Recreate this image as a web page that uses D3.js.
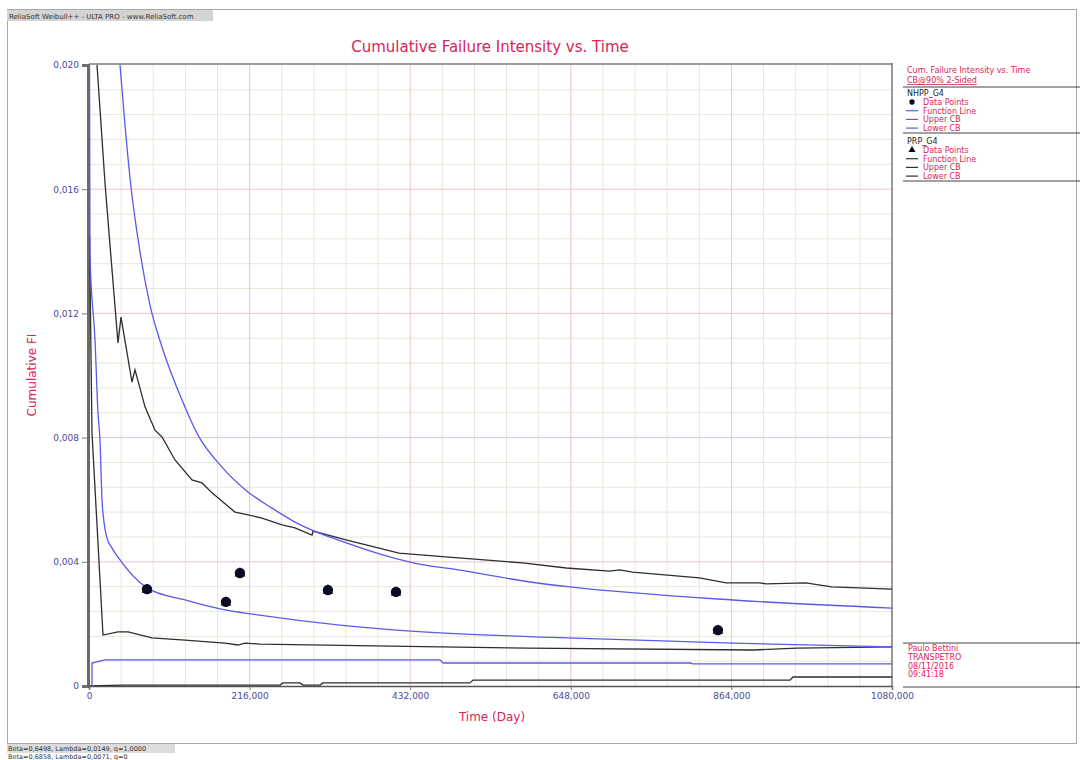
<!DOCTYPE html>
<html>
<head>
<meta charset="utf-8">
<script src="https://cdn.jsdelivr.net/npm/d3@7"></script>
<style>
  body { margin: 0; background: #fff; }
  svg { display: block; font-family: "DejaVu Sans", Verdana, sans-serif; }
</style>
</head>
<body>
<svg id="chart" width="1083" height="760"></svg>
<script>
// ---- data: [time (day), cumulative failure intensity] ----
const nhppPoints = [[78000, 0.00312], [184200, 0.00271], [203000, 0.00364], [321400, 0.00309], [412900, 0.00303], [845900, 0.00180]];

const nhppFunction = [[700, 0.0200], [1345, 0.01382], [8070, 0.01114], [12100, 0.00879], [14790, 0.00792], [17480, 0.00599],
  [20170, 0.00528], [24210, 0.00477], [30930, 0.00444], [39000, 0.00415], [78000, 0.00316], [129120, 0.00277],
  [182910, 0.00245], [209810, 0.00235], [337580, 0.00196], [449220, 0.00174], [642890, 0.00155], [866150, 0.00138],
  [1080000, 0.00126]];

const nhppUpper = [[41690, 0.0200], [48420, 0.01807], [55140, 0.01636], [68590, 0.01398], [82040, 0.01227], [98180, 0.01092],
  [125080, 0.00921], [146600, 0.00808], [178880, 0.00705], [213850, 0.00625], [246130, 0.00573], [277060, 0.00528],
  [347000, 0.00460], [431730, 0.00399], [507000, 0.00370], [593130, 0.00335], [646930, 0.00319], [866150, 0.00277],
  [1080000, 0.00251]];

const nhppLower = [[4030, 0], [4030, 0.00074], [21520, 0.00084], [472080, 0.00084], [476000, 0.00074], [808320, 0.00074],
  [812000, 0.00071], [1080000, 0.00071]];

const prpFunction = [[670, 0.01452], [4030, 0.00815], [18830, 0.00164], [39000, 0.00174], [52450, 0.00174], [84730, 0.00155],
  [129120, 0.00148], [182910, 0.00138], [200400, 0.00132], [209810, 0.00138], [229990, 0.00135], [472080, 0.00126],
  [589100, 0.00122], [893050, 0.00116], [952220, 0.00122], [1080000, 0.00126]];

const prpUpper = [[10760, 0.0200], [21520, 0.01620], [28240, 0.01420], [39000, 0.01105], [43040, 0.01188], [57830, 0.00979],
  [61870, 0.01018], [75320, 0.00899], [88770, 0.00824], [98180, 0.00802], [115670, 0.00728], [138530, 0.00664],
  [151980, 0.00654], [165430, 0.00622], [196360, 0.00560], [213850, 0.00551], [232680, 0.00541], [259580, 0.00519],
  [277060, 0.00509], [299930, 0.00486], [301270, 0.00499], [347000, 0.00470], [417000, 0.00428], [484000, 0.00415],
  [586000, 0.00396], [642000, 0.00380], [700000, 0.00370], [714000, 0.00374], [731000, 0.00367], [821000, 0.00348],
  [857000, 0.00332], [902000, 0.00332], [911000, 0.00329], [964000, 0.00332], [999000, 0.00319], [1080000, 0.00312]];

const prpLower = [[0, 0], [44380, 0.00003], [256880, 0.00003], [260920, 0.00010], [283790, 0.00010], [287820, 0.00003],
  [310680, 0.00003], [314720, 0.00010], [512430, 0.00010], [516460, 0.00019], [942810, 0.00019], [946840, 0.00029],
  [1080000, 0.00029]];

const xTicks = [0, 216000, 432000, 648000, 864000, 1080000];
const xTickLabels = ["0", "216,000", "432,000", "648,000", "864,000", "1080,000"];
const yTicks = [0, 0.004, 0.008, 0.012, 0.016, 0.020];
const yTickLabels = ["0", "0,004", "0,008", "0,012", "0,016", "0,020"];

const legendNhpp = ["Data Points", "Function Line", "Upper CB", "Lower CB"];
const legendPrp = ["Data Points", "Function Line", "Upper CB", "Lower CB"];
const stampLines = ["Paulo Bettini", "TRANSPETRO", "08/11/2016", "09:41:18"];
const paramLines = ["Beta=0,6498, Lambda=0,0149, q=1,0000", "Beta=0,6858, Lambda=0,0071, q=0"];

// ---- layout ----
const svg = d3.select("#chart");
const L = 89, R = 892, T = 65, B = 686;
const x = d3.scaleLinear().domain([0, 1080000]).range([L, R]);
const y = d3.scaleLinear().domain([0, 0.02]).range([B, T]);

const pink = "#d8245a";
const blue = "#5a5ae8";
const dark = "#2e2e2e";
const tickBlue = "#4a4aa0";

// outer frame and program header
svg.append("rect").attr("x", 7.5).attr("y", 9.5).attr("width", 1069).attr("height", 734)
  .attr("fill", "none").attr("stroke", "#a8a8a8");
svg.append("rect").attr("x", 7).attr("y", 10).attr("width", 206).attr("height", 11).attr("fill", "#d4d4d4");
svg.append("text").attr("x", 9).attr("y", 18.5).attr("font-size", 7).attr("fill", "#333")
  .text("ReliaSoft Weibull++ - ULTA PRO - www.ReliaSoft.com");

// grid
const grid = svg.append("g");
d3.range(0, 1080001, 43200).forEach(v => {
  if (v % 216000 !== 0) grid.append("line").attr("x1", x(v)).attr("x2", x(v)).attr("y1", T).attr("y2", B)
    .attr("stroke", "#e2ebda").attr("stroke-width", 1);
});
d3.range(0, 0.02001, 0.0008).forEach((v, i) => {
  if (i % 5 !== 0) grid.append("line").attr("x1", L).attr("x2", R).attr("y1", y(v)).attr("y2", y(v))
    .attr("stroke", "#e2ebda").attr("stroke-width", 1);
});
xTicks.slice(1, -1).forEach(v => grid.append("line").attr("x1", x(v)).attr("x2", x(v)).attr("y1", T).attr("y2", B)
  .attr("stroke", "#efc2ca").attr("stroke-width", 1));
yTicks.slice(1, -1).forEach(v => grid.append("line").attr("x1", L).attr("x2", R).attr("y1", y(v)).attr("y2", y(v))
  .attr("stroke", "#efc2ca").attr("stroke-width", 1));

// plot frame
svg.append("line").attr("x1", L).attr("x2", R).attr("y1", T - 1).attr("y2", T - 1).attr("stroke", "#9a9a9a").attr("stroke-width", 2);
svg.append("line").attr("x1", R).attr("x2", R).attr("y1", T - 2).attr("y2", B).attr("stroke", "#555").attr("stroke-width", 1.2);

// axes
const yAxis = svg.append("g").attr("transform", `translate(${L - 1},0)`)
  .call(d3.axisLeft(y).tickValues(yTicks).tickFormat((d, i) => yTickLabels[i]).tickSize(6).tickPadding(3));
const xAxis = svg.append("g").attr("transform", `translate(0,${B})`)
  .call(d3.axisBottom(x).tickValues(xTicks).tickFormat((d, i) => xTickLabels[i]).tickSize(4).tickPadding(3));
[yAxis, xAxis].forEach(a => {
  a.selectAll("text").attr("font-size", 9).attr("fill", tickBlue).attr("font-family", "DejaVu Sans, sans-serif");
  a.selectAll(".tick line").attr("stroke", "#777");
});
yAxis.select(".domain").attr("stroke", "#6a6a6a").attr("stroke-width", 3);
xAxis.select(".domain").attr("stroke", "#555").attr("stroke-width", 1.5);

// clipping for curves
svg.append("clipPath").attr("id", "plotClip").append("rect")
  .attr("x", L).attr("y", T).attr("width", R - L).attr("height", B - T);
const plot = svg.append("g").attr("clip-path", "url(#plotClip)");

const lineLin = d3.line().x(d => x(d[0])).y(d => y(d[1]));
const lineSmooth = d3.line().x(d => x(d[0])).y(d => y(d[1])).curve(d3.curveMonotoneX);

const series = [
  { data: prpLower, color: dark, gen: lineLin, w: 1.3 },
  { data: nhppLower, color: blue, gen: lineLin, w: 1.3 },
  { data: prpFunction, color: dark, gen: lineLin, w: 1.3 },
  { data: nhppFunction, color: blue, gen: lineSmooth, w: 1.3 },
  { data: prpUpper, color: dark, gen: lineLin, w: 1.3 },
  { data: nhppUpper, color: blue, gen: lineSmooth, w: 1.3 }
];
series.forEach(s => plot.append("path").attr("d", s.gen(s.data)).attr("fill", "none")
  .attr("stroke", s.color).attr("stroke-width", s.w));

// data points: NHPP circles with PRP triangles on the same observations
plot.selectAll("circle.pt").data(nhppPoints).join("circle").attr("class", "pt")
  .attr("cx", d => x(d[0])).attr("cy", d => y(d[1])).attr("r", 5.2).attr("fill", "#0b0b24");
plot.selectAll("path.tri").data(nhppPoints).join("path").attr("class", "tri")
  .attr("transform", d => `translate(${x(d[0])},${y(d[1]) + 0.5})`)
  .attr("d", d3.symbol(d3.symbolTriangle, 50)).attr("fill", "#0b0b24");

// titles
svg.append("text").attr("x", 490).attr("y", 52).attr("text-anchor", "middle").attr("font-size", 15)
  .attr("fill", pink).text("Cumulative Failure Intensity vs. Time");
svg.append("text").attr("x", 492).attr("y", 721).attr("text-anchor", "middle").attr("font-size", 12)
  .attr("fill", pink).text("Time (Day)");
svg.append("text").attr("transform", "translate(36,375) rotate(-90)").attr("text-anchor", "middle")
  .attr("font-size", 12).attr("fill", pink).text("Cumulative FI");

// legend
const lg = svg.append("g").attr("font-size", 8);
lg.append("text").attr("x", 907).attr("y", 73).attr("fill", pink).text("Cum. Failure Intensity vs. Time");
lg.append("text").attr("x", 907).attr("y", 83).attr("fill", pink).attr("text-decoration", "underline").text("CB@90% 2-Sided");
[87, 133, 181].forEach(yy => lg.append("line").attr("x1", 903).attr("x2", 1080).attr("y1", yy).attr("y2", yy)
  .attr("stroke", "#444").attr("stroke-width", 1));

function legendBlock(y0, name, items, color, marker) {
  lg.append("text").attr("x", 907).attr("y", y0).attr("fill", "#222").text(name);
  items.forEach((t, i) => {
    const yy = y0 + 9 + i * 8.7;
    if (i === 0) {
      lg.append("path").attr("transform", `translate(912,${yy - 3})`)
        .attr("d", d3.symbol(marker, 22)).attr("fill", "#0b0b24");
    } else {
      lg.append("line").attr("x1", 906).attr("x2", 918).attr("y1", yy - 3).attr("y2", yy - 3)
        .attr("stroke", color).attr("stroke-width", 1.2);
    }
    lg.append("text").attr("x", 923).attr("y", yy).attr("fill", pink).text(t);
  });
}
legendBlock(96, "NHPP_G4", legendNhpp, blue, d3.symbolCircle);
legendBlock(144, "PRP_G4", legendPrp, dark, d3.symbolTriangle);

// user / date stamp
[643, 687].forEach(yy => svg.append("line").attr("x1", 903).attr("x2", 1080).attr("y1", yy).attr("y2", yy)
  .attr("stroke", "#444").attr("stroke-width", 1));
stampLines.forEach((t, i) => svg.append("text").attr("x", 908).attr("y", 651 + i * 8.8)
  .attr("font-size", 8).attr("fill", pink).text(t));

// parameter footer
svg.append("rect").attr("x", 7).attr("y", 744).attr("width", 168).attr("height", 9).attr("fill", "#dcdcdc");
paramLines.forEach((t, i) => svg.append("text").attr("x", 8).attr("y", 751 + i * 8)
  .attr("font-size", 6.5).attr("fill", "#333").text(t));
</script>
</body>
</html>
